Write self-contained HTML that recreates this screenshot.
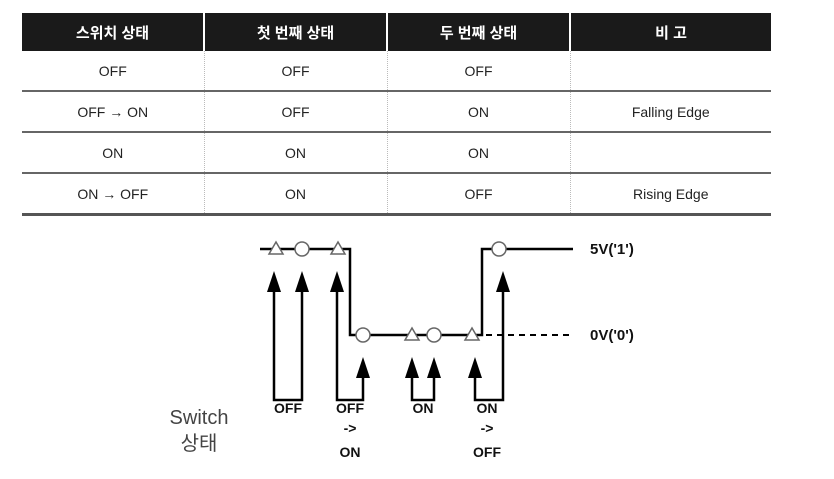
<!DOCTYPE html>
<html><head><meta charset="utf-8"><style>
body{margin:0;width:834px;height:479px;background:#fff;overflow:hidden;font-family:"Liberation Sans","Noto Sans CJK KR",sans-serif}
table{position:absolute;left:22px;top:13px;width:749px;border-collapse:collapse;font-size:14px;color:#222}
th{background:#1a1a1a;color:#fff;height:38px;padding:0;font-weight:bold;font-size:15px;border-left:2px solid #fff}
th:first-child{border-left:none}
td{height:39px;padding:0;text-align:center;border-bottom:2px solid #666;border-left:1px dotted #bbb}
td:first-child{border-left:none}
tr:last-child td{border-bottom:3px solid #555}
</style></head><body>
<table>
<tr><th style="width:181px">스위치 상태</th><th style="width:181px">첫 번째 상태</th><th style="width:181px">두 번째 상태</th><th>비 고</th></tr>
<tr><td>OFF</td><td>OFF</td><td>OFF</td><td></td></tr>
<tr><td>OFF → ON</td><td>OFF</td><td>ON</td><td>Falling Edge</td></tr>
<tr><td>ON</td><td>ON</td><td>ON</td><td></td></tr>
<tr><td>ON → OFF</td><td>ON</td><td>OFF</td><td>Rising Edge</td></tr>
</table>
<svg width="834" height="479" style="position:absolute;left:0;top:0">
<g stroke="#000" stroke-width="2.5" fill="none">
<polyline points="260,249 350,249 350,335 482,335 482,249 573,249"/>
</g>
<line x1="486" y1="335" x2="570" y2="335" stroke="#000" stroke-width="2" stroke-dasharray="6,5"/>
<g fill="#fff" stroke="#666" stroke-width="1.5">
<polygon points="276,242 269,254 283,254"/><polygon points="338,242 331,254 345,254"/>
<polygon points="412,328 405,340 419,340"/><polygon points="472,328 465,340 479,340"/>
<circle cx="302" cy="249" r="7"/><circle cx="499" cy="249" r="7"/>
<circle cx="363" cy="335" r="7"/><circle cx="434" cy="335" r="7"/>
</g>
<g stroke="#000" stroke-width="2.5" fill="none">
<polyline points="274,290 274,400 302,400 302,290"/>
<polyline points="337,290 337,400 363,400 363,376"/>
<polyline points="412,376 412,400 434,400 434,376"/>
<polyline points="475,376 475,400 503,400 503,290"/>
</g>
<g fill="#000">
<polygon points="274,271 267,292 281,292"/><polygon points="302,271 295,292 309,292"/>
<polygon points="337,271 330,292 344,292"/><polygon points="363,357 356,378 370,378"/>
<polygon points="412,357 405,378 419,378"/><polygon points="434,357 427,378 441,378"/>
<polygon points="475,357 468,378 482,378"/><polygon points="503,271 496,292 510,292"/>
</g>
<g font-size="14" font-weight="bold" text-anchor="middle" fill="#111">
<text x="288" y="413">OFF</text>
<text x="350" y="413">OFF</text>
<text x="350" y="433">-&gt;</text>
<text x="350" y="457">ON</text>
<text x="423" y="413">ON</text>
<text x="487" y="413">ON</text>
<text x="487" y="433">-&gt;</text>
<text x="487" y="457">OFF</text>
<text x="590" y="254" text-anchor="start" font-size="15">5V('1')</text>
<text x="590" y="340" text-anchor="start" font-size="15">0V('0')</text>
</g>
<g font-size="20" fill="#444" text-anchor="middle">
<text x="199" y="424">Switch</text>
<text x="199" y="450">상태</text>
</g>
</svg>
</body></html>
